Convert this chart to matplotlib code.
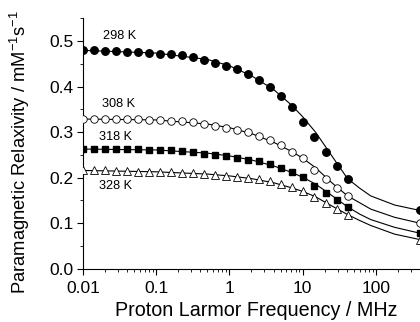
import matplotlib
matplotlib.use('Agg')
import matplotlib.pyplot as plt
from matplotlib.ticker import LogLocator, FuncFormatter, MultipleLocator

plt.rcParams['font.family'] = ['Liberation Sans', 'DejaVu Sans']
plt.rcParams['mathtext.fontset'] = 'custom'
plt.rcParams['mathtext.rm'] = 'Liberation Sans'
plt.rcParams['mathtext.it'] = 'Liberation Sans:italic'

# NMRD data (MHz, mM^-1 s^-1)
freq = [0.01, 0.0141, 0.02, 0.0283, 0.04, 0.0566, 0.08, 0.113, 0.16, 0.226,
        0.32, 0.453, 0.64, 0.905, 1.28, 1.81, 2.56, 3.62, 5.12, 7.24,
        10.24, 14.5, 20.5, 29.0, 41.0, 400.0]
r298 = [0.481, 0.481, 0.479, 0.478, 0.477, 0.476, 0.475, 0.473, 0.471, 0.469,
        0.466, 0.459, 0.452, 0.446, 0.438, 0.428, 0.415, 0.399, 0.379, 0.355,
        0.322, 0.290, 0.257, 0.226, 0.198, 0.128]
r308 = [0.329, 0.329, 0.329, 0.329, 0.328, 0.328, 0.327, 0.327, 0.325, 0.324,
        0.322, 0.318, 0.314, 0.309, 0.304, 0.300, 0.292, 0.283, 0.271, 0.257,
        0.243, 0.217, 0.197, 0.178, 0.160, 0.100]
r318 = [0.263, 0.263, 0.263, 0.263, 0.263, 0.263, 0.262, 0.261, 0.260, 0.259,
        0.257, 0.253, 0.250, 0.248, 0.244, 0.240, 0.237, 0.230, 0.222, 0.213,
        0.201, 0.182, 0.167, 0.151, 0.136, 0.078]
r328 = [0.217, 0.217, 0.216, 0.215, 0.215, 0.213, 0.213, 0.212, 0.212, 0.211,
        0.211, 0.209, 0.205, 0.204, 0.202, 0.200, 0.197, 0.193, 0.186, 0.180,
        0.171, 0.157, 0.145, 0.132, 0.119, 0.064]

# fitted curves
fit_freq = [0.01, 0.1, 0.5, 1.0, 2.0, 4.0, 7.0, 10.0, 15.0, 25.0, 41.0, 60.0, 85.0, 180.0, 400.0]
fit298 = [0.480, 0.474, 0.460, 0.446, 0.424, 0.394, 0.360, 0.334, 0.300, 0.248, 0.198, 0.177, 0.160, 0.140, 0.128]
fit308 = [0.329, 0.327, 0.318, 0.310, 0.297, 0.278, 0.258, 0.243, 0.222, 0.189, 0.160, 0.145, 0.131, 0.113, 0.100]
fit318 = [0.263, 0.261, 0.254, 0.248, 0.239, 0.226, 0.212, 0.201, 0.186, 0.161, 0.136, 0.120, 0.108, 0.091, 0.078]
fit328 = [0.216, 0.213, 0.208, 0.204, 0.198, 0.189, 0.178, 0.170, 0.158, 0.138, 0.119, 0.106, 0.095, 0.076, 0.064]

temps = ['298 K', '308 K', '318 K', '328 K']
label_pos = [(0.0185, 0.511), (0.018, 0.362), (0.0165, 0.289), (0.0165, 0.182)]

fig = plt.figure(figsize=(4.2, 3.22), dpi=100)
ax = fig.add_axes([0.1976, 0.1655, 0.8024, 0.7771])

for fy in [fit298, fit308, fit318, fit328]:
    ax.plot(fit_freq, fy, color='black', lw=0.8, zorder=2)

ax.plot(freq, r298, 'o', ms=5.4, mfc='black', mec='black', zorder=3)
ax.plot(freq, r308, 'o', ms=5.4, mfc='white', mec='black', mew=0.6, zorder=3)
ax.plot(freq, r318, 's', ms=4.8, mfc='black', mec='black', zorder=3)
ax.plot(freq, r328, '^', ms=5.4, mfc='white', mec='black', mew=0.6, zorder=3)

for t, (x, y) in zip(temps, label_pos):
    ax.text(x, y, t, fontsize=9.2, ha='left', va='center')

ax.set_xscale('log')
ax.set_xlim(0.01, 400)
ax.set_ylim(0, 0.55)
ax.yaxis.set_major_locator(MultipleLocator(0.1))
ax.yaxis.set_minor_locator(MultipleLocator(0.05))
ax.xaxis.set_major_locator(LogLocator(base=10))
ax.xaxis.set_minor_locator(LogLocator(base=10, subs=range(2, 10)))
ax.xaxis.set_major_formatter(FuncFormatter(lambda v, p: '%g' % v))
ax.yaxis.set_major_formatter(FuncFormatter(lambda v, p: '%.1f' % v))

ax.spines['top'].set_visible(False)
ax.spines['right'].set_visible(False)
ax.tick_params(which='major', direction='out', length=4, width=0.8, labelsize=12.5)
ax.tick_params(axis='x', which='major', pad=5)
ax.tick_params(axis='y', which='major', pad=3)
ax.tick_params(which='minor', direction='out', length=2.5, width=0.6)

ax.set_xlabel('Proton Larmor Frequency / MHz', fontsize=14.2)
ax.set_ylabel('Paramagnetic Relaxivity / mM$^{\\mathregular{-1}}$s$^{\\mathregular{-1}}$', fontsize=13.2)
ax.xaxis.set_label_coords(0.513, -0.128)
ax.yaxis.set_label_coords(-0.15, 0.466)

fig.savefig('out.png', dpi=100)
